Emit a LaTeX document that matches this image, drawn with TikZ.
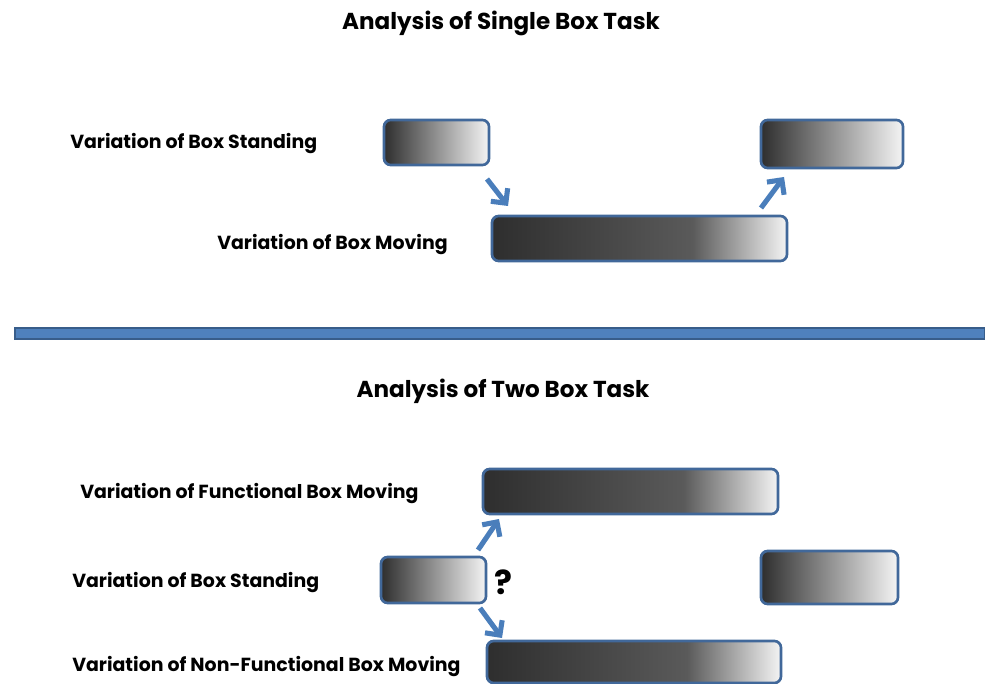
\documentclass[tikz,border=0pt]{standalone}
\usepackage{fontspec}
\setmainfont{Poppins}
\usetikzlibrary{arrows.meta}
\definecolor{boxedge}{HTML}{41689A}
\definecolor{arrowblue}{HTML}{4A7EBB}
\definecolor{barfill}{HTML}{4F81BD}
\definecolor{baredge}{HTML}{385D8A}
\definecolor{gdark}{HTML}{2E2E2E}
\definecolor{gmid}{HTML}{5A5A5A}
\definecolor{glight}{HTML}{F4F4F4}
\pgfdeclarehorizontalshading{longgrad}{100bp}{color(0bp)=(gdark); color(25bp)=(gdark); color(59bp)=(gmid); color(75bp)=(glight); color(100bp)=(glight)}
\pgfdeclarehorizontalshading{shortgrad}{100bp}{color(0bp)=(gdark); color(25bp)=(gdark); color(75bp)=(glight); color(100bp)=(glight)}
\tikzset{
  shortbox/.style={draw=boxedge, line width=2pt, rounded corners=5pt, shading=shortgrad},
  longbox/.style={draw=boxedge, line width=2pt, rounded corners=5pt, shading=longgrad},
  flow/.style={draw=arrowblue, line width=3.8pt, -{Straight Barb[length=8pt,width=16pt,line width=3.8pt]}},
  lbl/.style={anchor=west, inner sep=0pt, font=\bfseries\fontsize{14.2}{16}\selectfont},
  ttl/.style={inner sep=0pt, font=\bfseries\fontsize{17.3}{20}\selectfont},
}
\begin{document}
\begin{tikzpicture}[x=0.75pt,y=-0.75pt]
\useasboundingbox (0,0) rectangle (985,684);
% top section
\node[ttl] (t1) at (501,23) {Analysis of Single Box Task};
\node[lbl] (l1) at (70,144) {Variation of Box Standing};
\node[lbl] (l2) at (217,245) {Variation of Box Moving};
\path[shortbox] (384,120) rectangle (489,165);
\node[inner sep=0pt, minimum width=105*0.75pt, minimum height=45*0.75pt] (bA) at (436.5,142.5) {};
\path[longbox] (492,216) rectangle (787,261);
\node[inner sep=0pt, minimum width=295*0.75pt, minimum height=45*0.75pt] (bB) at (639.5,238.5) {};
\path[shortbox] (761,120) rectangle (903,168);
\node[inner sep=0pt, minimum width=142*0.75pt, minimum height=48*0.75pt] (bC) at (832,144) {};
\coordinate (a1s) at (487,179);
\coordinate (a1e) at (508,206);
\coordinate (a2s) at (761,208);
\coordinate (a2e) at (784,177);
\draw[flow] (a1s) -- (a1e);
\draw[flow] (a2s) -- (a2e);
% separator
\path[fill=barfill, draw=baredge, line width=1.2pt] (15,328) rectangle (985,339);
% bottom section
\node[ttl] (t2) at (503,391) {Analysis of Two Box Task};
\node[lbl] (l3) at (80,494) {Variation of Functional Box Moving};
\node[lbl] (l4) at (72,583) {Variation of Box Standing};
\node[lbl] (l5) at (72,667) {Variation of Non-Functional Box Moving};
\path[longbox] (483,469) rectangle (778,514);
\node[inner sep=0pt, minimum width=295*0.75pt, minimum height=45*0.75pt] (bD) at (630.5,491.5) {};
\path[shortbox] (381,557) rectangle (486,603);
\node[inner sep=0pt, minimum width=105*0.75pt, minimum height=46*0.75pt] (bE) at (433.5,580) {};
\path[shortbox] (761,551) rectangle (898,604);
\node[inner sep=0pt, minimum width=137*0.75pt, minimum height=53*0.75pt] (bF) at (829.5,577.5) {};
\path[longbox] (487,641) rectangle (781,683);
\node[inner sep=0pt, minimum width=294*0.75pt, minimum height=42*0.75pt] (bG) at (634,662) {};
\node[inner sep=0pt, font=\bfseries\fontsize{25}{28}\selectfont] (q) at (503,582) {?};
\coordinate (a3s) at (478,550);
\coordinate (a3e) at (499,519);
\coordinate (a4s) at (480,608);
\coordinate (a4e) at (502,638);
\draw[flow] (a3s) -- (a3e);
\draw[flow] (a4s) -- (a4e);
\end{tikzpicture}
\end{document}
